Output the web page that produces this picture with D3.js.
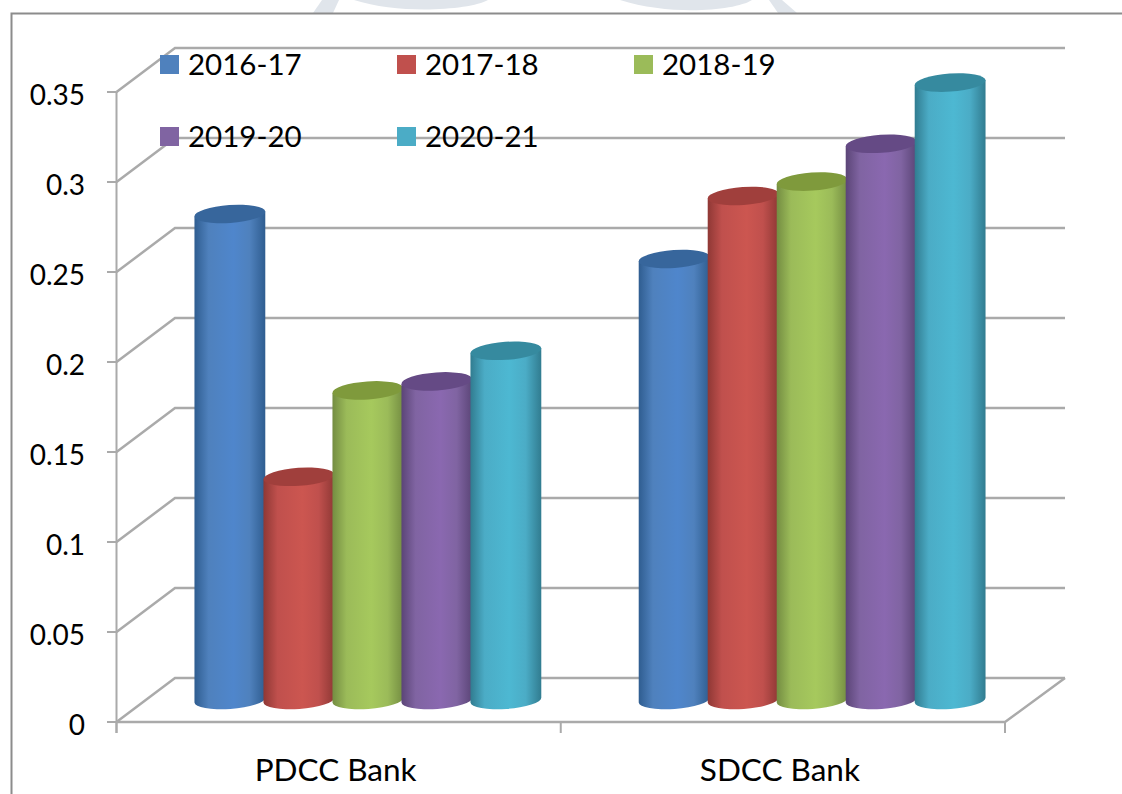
<!DOCTYPE html>
<html>
<head>
<meta charset="utf-8">
<script src="https://cdn.jsdelivr.net/npm/d3@7"></script>
<style>
html,body{margin:0;padding:0;background:#fff}
svg{display:block}
text{font-family:Lato,"Open Sans",sans-serif;fill:#000}
</style>
</head>
<body>
<script>
// Chart values
const categories = ["PDCC Bank", "SDCC Bank"];
const seriesNames = ["2016-17", "2017-18", "2018-19", "2019-20", "2020-21"];
const pdccValues = [0.27, 0.124, 0.172, 0.177, 0.194];
const sdccValues = [0.245, 0.28, 0.288, 0.309, 0.343];
const yTicks = [0, 0.05, 0.1, 0.15, 0.2, 0.25, 0.3, 0.35];
const yTickLabels = ["0", "0.05", "0.1", "0.15", "0.2", "0.25", "0.3", "0.35"];
const seriesColors = ["#4f81bd", "#c0504d", "#9bbb59", "#8064a2", "#4bacc6"];
const sideLight = ["#4f86cc", "#cc5650", "#a6c95d", "#8a68b0", "#4db8d2"];
const sideDark = ["#2f5d90", "#8f3835", "#748d42", "#5b4577", "#317c90"];
const capColor = ["#37669c", "#a03f3c", "#7f9a3c", "#654a85", "#368a9f"];

const W = 1122, H = 794;
const depthX = 58.5, depthY = 44, backRight = 1065;

const svg = d3.select("body").append("svg").attr("width", W).attr("height", H);
const defs = svg.append("defs");

const x = d3.scaleBand().domain(categories).range([116.5, 1005]);
const y = d3.scaleLinear().domain([0, 0.35]).range([722, 92]);
const inner = d3.scaleBand().domain(seriesNames).range([0, 345]);
const gridColor = "#aaaaaa";

// Faint seal showing above the frame
const seal = svg.append("g").attr("fill", "#e0e5eb");
[
  "M313,13 L322,0 L339,0 L333,13 Z",
  "M354,0 L488,0 C470,10 400,15 354,0 Z",
  "M620,0 L752,0 C735,11 670,16 620,0 Z",
  "M769,0 L782,0 L797,13 L778,13 Z"
].forEach(d => seal.append("path").attr("d", d));

// Outer frame
svg.append("path").attr("d", `M11.5,${H} V13.5 H${W}`)
  .attr("fill", "none").attr("stroke", "#8c8c8c").attr("stroke-width", 2);

// Back wall, side wall and floor
const walls = svg.append("g").attr("fill", "none").attr("stroke", gridColor);
yTicks.forEach(t => {
  const yy = y(t);
  walls.append("path")
    .attr("stroke-width", 2.5)
    .attr("d", `M${x.range()[0]},${yy} L${x.range()[0] + depthX},${yy - depthY} H${backRight}`);
  walls.append("line").attr("x1", 107).attr("x2", x.range()[0])
    .attr("y1", yy).attr("y2", yy).attr("stroke-width", 2);
});
walls.append("line").attr("x1", x.range()[0]).attr("x2", x.range()[0])
  .attr("y1", y(0.35)).attr("y2", y(0) + 11).attr("stroke-width", 2);
walls.append("path").attr("stroke-width", 2.5)
  .attr("d", `M${x.range()[0]},${y(0)} H${x.range()[1]} L${backRight},${y(0) - depthY}`);
x.domain().concat(["end"]).forEach((c, i) => {
  const xx = x.range()[0] + i * x.bandwidth();
  walls.append("line").attr("x1", xx).attr("x2", xx)
    .attr("y1", y(0)).attr("y2", y(0) + 11).attr("stroke-width", 2);
});

// Shading across the round side of each cylinder
seriesNames.forEach((s, i) => {
  const g = defs.append("linearGradient").attr("id", "side" + i)
    .attr("x1", "0%").attr("x2", "100%").attr("y1", "0%").attr("y2", "0%");
  [[0, sideDark[i]], [0.2, seriesColors[i]], [0.55, sideLight[i]], [0.78, seriesColors[i]], [1, sideDark[i]]]
    .forEach(([o, c]) => g.append("stop").attr("offset", o).attr("stop-color", c));
});

// Cylinders: the base ellipse sits halfway back on the floor
const rx = 35.5, ry = 9, tilt = -4;
const ca = Math.cos(tilt * Math.PI / 180), sa = Math.sin(tilt * Math.PI / 180);
const baseShift = depthY / 2, frontShift = depthX / 2;
const valuesByCategory = [pdccValues, sdccValues];

categories.forEach((cat, ci) => {
  const g = svg.append("g");
  seriesNames.forEach((s, si) => {
    const v = valuesByCategory[ci][si];
    const cx = x(cat) + x.bandwidth() / 2 + frontShift + (inner(s) + inner.bandwidth() / 2 - 172.5);
    const yb = y(0) - baseShift, yt = y(v) - baseShift;
    const dx = rx * ca, dy = rx * sa;
    g.append("path")
      .attr("fill", `url(#side${si})`)
      .attr("d", `M${cx - dx},${yt - dy} L${cx - dx},${yb - dy} A${rx},${ry} ${tilt} 0 0 ${cx + dx},${yb + dy} L${cx + dx},${yt + dy} Z`);
    g.append("ellipse")
      .attr("cx", 0).attr("cy", 0).attr("rx", rx).attr("ry", ry)
      .attr("transform", `translate(${cx},${yt}) rotate(${tilt})`)
      .attr("fill", capColor[si]);
  });
});

// Value axis labels
svg.append("g").selectAll("text").data(yTicks).join("text")
  .attr("x", 85).attr("y", d => y(d) + 6)
  .attr("text-anchor", "end").attr("dominant-baseline", "middle")
  .attr("font-size", 28)
  .text((d, i) => yTickLabels[i]);

// Category labels
svg.append("g").selectAll("text").data(categories).join("text")
  .attr("x", d => x(d) + x.bandwidth() / 2 - 3).attr("y", 781)
  .attr("text-anchor", "middle").attr("font-size", 31.5)
  .text(d => d);

// Legend in two rows
const legendX = [160, 397, 634], legendY = [55, 127];
const legend = svg.append("g").selectAll("g").data(seriesNames).join("g")
  .attr("transform", (d, i) => `translate(${legendX[i % 3]},${legendY[Math.floor(i / 3)]})`);
legend.append("rect").attr("width", 19).attr("height", 19)
  .attr("fill", (d, i) => seriesColors[i]);
legend.append("text").attr("x", 28).attr("y", 20)
  .attr("font-size", 29.5).text(d => d);
</script>
</body>
</html>
